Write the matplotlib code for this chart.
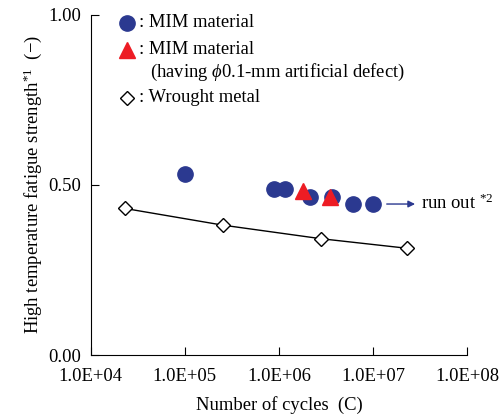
import matplotlib.pyplot as plt
import numpy as np

plt.rcParams['font.family'] = ['Liberation Serif', 'DejaVu Serif']
plt.rcParams['mathtext.fontset'] = 'custom'
plt.rcParams['mathtext.rm'] = 'Liberation Serif'
plt.rcParams['mathtext.it'] = 'Liberation Serif:italic'

# data
mim_cycles = [1.0e5, 8.9e5, 1.16e6, 2.14e6, 3.7e6, 6.1e6, 1.0e7]
mim_strength = [0.532, 0.487, 0.487, 0.466, 0.466, 0.444, 0.444]
defect_cycles = [1.79e6, 3.5e6]
defect_strength = [0.483, 0.464]
wrought_cycles = [2.3e4, 2.52e5, 2.8e6, 2.28e7]
wrought_strength = [0.431, 0.382, 0.342, 0.314]

xticks = [1e4, 1e5, 1e6, 1e7, 1e8]
xtick_labels = ['1.0E+04', '1.0E+05', '1.0E+06', '1.0E+07', '1.0E+08']
yticks = [0.0, 0.5, 1.0]
ytick_labels = ['0.00', '0.50', '1.00']

blue = '#2B3990'
red = '#ED1C24'
fs = 13.4

fig = plt.figure(figsize=(4.99, 4.18), dpi=100)
ax = fig.add_axes([0.182, 0.1507, 0.754, 0.8135])

ax.plot(wrought_cycles, wrought_strength, color='black', lw=1.0,
        marker='D', ms=7.6, mfc='white', mec='black', mew=1.0, zorder=2)
ax.plot(mim_cycles, mim_strength, ls='none', marker='o', ms=11,
        color=blue, zorder=3)
ax.plot(defect_cycles, defect_strength, ls='none', marker='^', ms=12,
        color=red, zorder=4)

ax.annotate('', xy=(2.8e7, 0.444), xytext=(1.4e7, 0.444),
            arrowprops=dict(arrowstyle='-|>', color=blue, lw=1.0,
                            mutation_scale=10, shrinkA=0, shrinkB=0))
ax.text(3.2e7, 0.447, 'run out $^{*2}$', fontsize=fs, va='center', ha='left')

ax.set_xscale('log')
ax.set_xlim(1e4, 1e8)
ax.set_ylim(0, 1.0)
ax.set_xticks(xticks)
ax.set_xticklabels(xtick_labels)
ax.set_yticks(yticks)
ax.set_yticklabels(ytick_labels)
ax.minorticks_off()
ax.tick_params(direction='in', length=6, width=0.8, labelsize=fs)
ax.tick_params(axis='x', pad=9)
ax.tick_params(axis='y', pad=7)
for s in ['top', 'right']:
    ax.spines[s].set_visible(False)
for s in ['left', 'bottom']:
    ax.spines[s].set_linewidth(0.8)

ax.set_xlabel('Number of cycles  (C)', fontsize=fs, labelpad=8)
ax.set_ylabel('High temperature fatigue strength$^{*1}$  (\u2212)',
              fontsize=fs, labelpad=3)

# legend drawn by hand
tr = ax.transAxes
ax.plot([0.096], [0.977], 'o', ms=11, color=blue, transform=tr, clip_on=False)
ax.plot([0.096], [0.897], '^', ms=12, color=red, transform=tr, clip_on=False)
ax.plot([0.096], [0.756], 'D', ms=7.6, mfc='white', mec='black', mew=1.0,
        transform=tr, clip_on=False)
ax.text(0.128, 0.977, ': MIM material', fontsize=fs, va='center', transform=tr)
ax.text(0.128, 0.897, ': MIM material', fontsize=fs, va='center', transform=tr)
ax.text(0.157, 0.830, '(having $\\phi$0.1-mm artificial defect)', fontsize=fs,
        va='center', transform=tr)
ax.text(0.128, 0.756, ': Wrought metal', fontsize=fs, va='center', transform=tr)

fig.savefig('out.png', dpi=100)
